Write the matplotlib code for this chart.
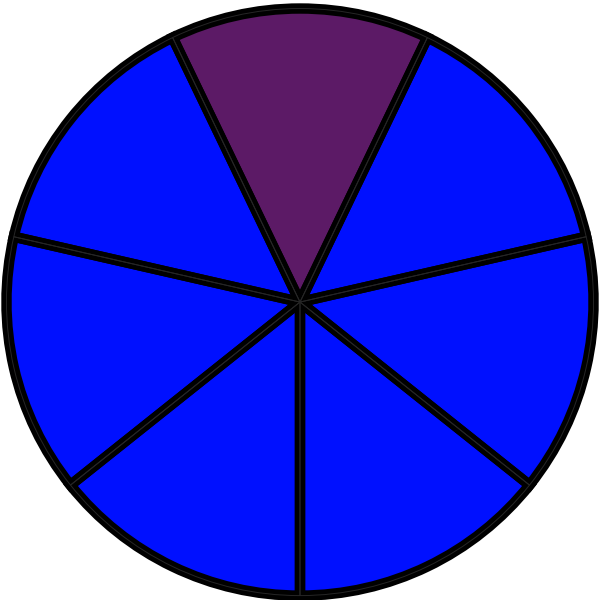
import matplotlib
matplotlib.use('Agg')
import matplotlib.pyplot as plt

# seven equal slices, the first one highlighted
slice_values = [1, 1, 1, 1, 1, 1, 1]
slice_colors = ['#5c1a66', '#0010ff', '#0010ff', '#0010ff', '#0010ff', '#0010ff', '#0010ff']

fig = plt.figure(figsize=(6, 6), dpi=100)
ax = fig.add_axes([0, 0, 1, 1])

start = 90 - 180.0 / len(slice_values)
# fills first
ax.pie(slice_values, colors=slice_colors, startangle=start, radius=1.0,
       wedgeprops={'linewidth': 0})
# thick black outlines on top of all fills
ax.pie(slice_values, colors=['none'] * len(slice_values), startangle=start, radius=1.0,
       wedgeprops={'edgecolor': 'black', 'linewidth': 7.5, 'fill': False})
# thin dark line inside the stroke for the doubled look
ax.pie(slice_values, colors=['none'] * len(slice_values), startangle=start, radius=1.0,
       wedgeprops={'edgecolor': '#262626', 'linewidth': 0.7, 'fill': False})

ax.set_xlim(-1.022, 1.022)
ax.set_ylim(-1.015, 1.029)
ax.set_aspect('auto')
ax.axis('off')

plt.savefig('out.png', dpi=100)
